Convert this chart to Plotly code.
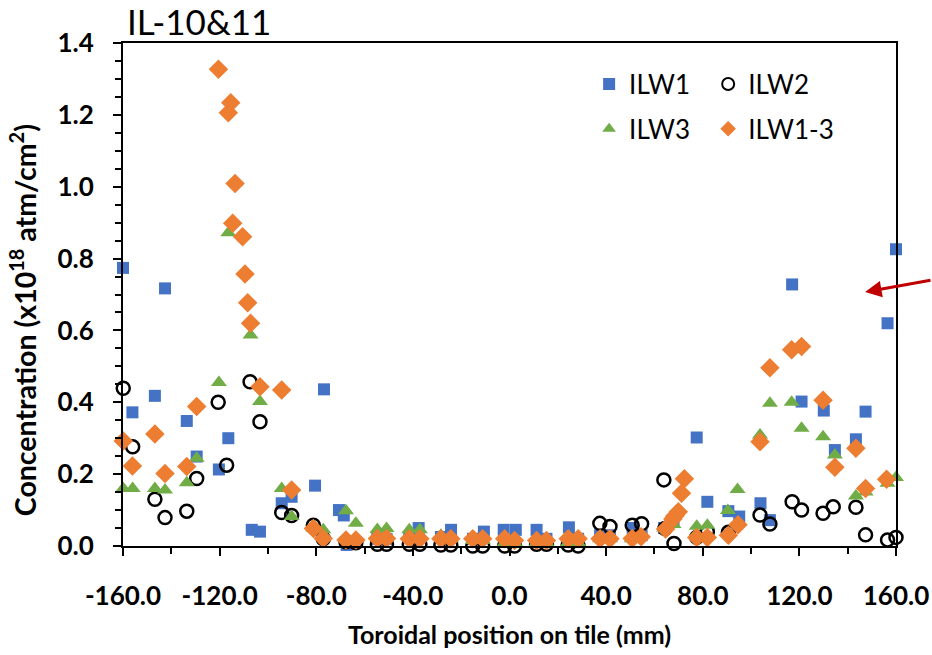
import plotly.graph_objects as go

# ILW1 (blue squares)
ilw1_x = [-160.0, -156.1, -146.8, -142.6, -133.6, -129.5, -120.3, -116.4, -106.7, -103.3,
          -94.3, -90.2, -80.5, -76.8, -70.6, -68.6, -67.4, -54.7, -50.9, -41.5,
          -37.6, -28.4, -24.2, -15.1, -10.6, -2.4, 2.6, 11.2, 15.3, 24.6,
          28.4, 37.5, 41.6, 51.0, 54.7, 64.0, 67.9, 77.5, 81.9, 90.6,
          95.1, 103.9, 107.8, 117.0, 120.9, 130.1, 134.7, 143.4, 147.4, 156.5, 160.0]
ilw1_y = [0.774, 0.372, 0.418, 0.717, 0.348, 0.249, 0.213, 0.300, 0.045, 0.040,
          0.119, 0.137, 0.168, 0.436, 0.100, 0.085, 0.003, 0.020, 0.020, 0.025,
          0.050, 0.025, 0.045, 0.020, 0.040, 0.045, 0.045, 0.045, 0.020, 0.052,
          0.020, 0.030, 0.030, 0.050, 0.030, 0.050, 0.070, 0.302, 0.123, 0.097,
          0.082, 0.119, 0.072, 0.728, 0.402, 0.377, 0.267, 0.297, 0.374, 0.620, 0.826]

# ILW2 (open black circles)
ilw2_x = [-159.9, -156.0, -146.8, -142.6, -133.6, -129.5, -120.6, -117.1, -107.4, -103.3,
          -94.3, -90.2, -81.2, -77.1, -67.7, -63.6, -54.7, -50.9, -41.5, -37.1,
          -28.4, -24.3, -15.2, -11.1, -2.0, 2.1, 11.2, 15.3, 24.3, 28.4,
          37.4, 41.6, 50.8, 54.7, 63.9, 64.4, 68.1, 77.5, 81.9, 90.6,
          103.7, 107.8, 117.0, 120.9, 129.8, 134.0, 143.4, 147.4, 156.5, 160.0]
ilw2_y = [0.439, 0.276, 0.130, 0.079, 0.097, 0.188, 0.400, 0.225, 0.457, 0.346,
          0.093, 0.085, 0.058, 0.020, 0.012, 0.009, 0.005, 0.005, 0.005, 0.005,
          0.003, 0.003, 0.000, 0.000, 0.000, 0.000, 0.005, 0.005, 0.003, 0.000,
          0.063, 0.054, 0.058, 0.062, 0.184, 0.049, 0.007, 0.024, 0.040, 0.038,
          0.086, 0.061, 0.123, 0.100, 0.091, 0.109, 0.108, 0.031, 0.017, 0.024]

# ILW3 (green triangles)
ilw3_x = [-159.9, -156.0, -146.8, -142.6, -133.6, -129.5, -120.3, -116.4, -107.2, -103.3,
          -94.3, -90.2, -81.2, -77.1, -67.7, -63.6, -54.7, -50.9, -41.5, -37.1,
          -28.4, -24.3, -15.2, -11.1, -2.0, 2.1, 11.2, 15.3, 24.3, 28.4,
          37.5, 41.6, 50.6, 54.7, 64.0, 67.9, 77.5, 81.9, 90.4, 94.4,
          103.7, 107.8, 116.8, 120.9, 129.8, 134.7, 143.4, 147.4, 156.5, 160.0]
ilw3_y = [0.160, 0.160, 0.160, 0.156, 0.176, 0.244, 0.455, 0.872, 0.587, 0.402,
          0.160, 0.082, 0.050, 0.045, 0.098, 0.063, 0.046, 0.049, 0.045, 0.045,
          0.030, 0.020, 0.015, 0.015, 0.010, 0.010, 0.010, 0.010, 0.010, 0.010,
          0.020, 0.020, 0.020, 0.030, 0.050, 0.060, 0.055, 0.058, 0.099, 0.157,
          0.309, 0.397, 0.400, 0.328, 0.304, 0.253, 0.139, 0.150, 0.175, 0.191]

# ILW1-3 (orange diamonds)
ilw13_x = [-159.9, -156.1, -146.8, -142.6, -133.6, -129.5, -120.5, -116.4, -115.4, -114.6,
           -113.6, -110.5, -109.5, -108.4, -107.2, -103.3, -94.3, -90.2, -81.2, -77.1,
           -67.7, -63.6, -54.7, -50.9, -41.5, -37.1, -28.4, -24.3, -15.2, -11.1,
           -2.0, 2.1, 11.2, 15.3, 24.3, 28.4, 37.5, 41.6, 50.8, 54.5,
           64.6, 67.6, 68.5, 69.9, 71.2, 72.4, 77.5, 81.9, 90.6, 94.6,
           103.7, 107.8, 116.8, 120.9, 129.8, 134.7, 143.4, 147.4, 156.1]
ilw13_y = [0.292, 0.223, 0.312, 0.202, 0.221, 0.388, 1.327, 1.206, 1.234, 0.898,
           1.009, 0.861, 0.757, 0.677, 0.620, 0.443, 0.434, 0.156, 0.049, 0.021,
           0.017, 0.017, 0.021, 0.021, 0.020, 0.020, 0.020, 0.020, 0.020, 0.020,
           0.020, 0.015, 0.015, 0.015, 0.020, 0.020, 0.020, 0.020, 0.021, 0.026,
           0.047, 0.075, 0.084, 0.095, 0.147, 0.187, 0.024, 0.024, 0.030, 0.059,
           0.290, 0.496, 0.546, 0.555, 0.406, 0.219, 0.272, 0.160, 0.186]

# Axis tick positions and their labels
x_tick_vals = [-160, -120, -80, -40, 0, 40, 80, 120, 160]
x_tick_text = ["-160.0", "-120.0", "-80.0", "-40.0", "0.0", "40.0", "80.0", "120.0", "160.0"]
y_tick_vals = [0.0, 0.2, 0.4, 0.6, 0.8, 1.0, 1.2, 1.4]
y_tick_text = ["0.0", "0.2", "0.4", "0.6", "0.8", "1.0", "1.2", "1.4"]

BLUE = "#4472C4"
ORANGE = "#ED7D31"
GREEN = "#70AD47"
FONT = "Lato"

fig = go.Figure()

fig.add_trace(go.Scatter(
    x=ilw1_x, y=ilw1_y, mode="markers", name="ILW1",
    marker=dict(symbol="square", size=12, color=BLUE),
    legend="legend", legendgroup="a", cliponaxis=False))
fig.add_trace(go.Scatter(
    x=ilw2_x, y=ilw2_y, mode="markers", name="ILW2",
    marker=dict(symbol="circle-open", size=13, color="black", line=dict(width=2.5, color="black")),
    legend="legend2", legendgroup="b", cliponaxis=False))
fig.add_trace(go.Scatter(
    x=ilw3_x, y=ilw3_y, mode="markers", name="ILW3",
    marker=dict(symbol="triangle-up", size=14, color=GREEN),
    legend="legend", legendgroup="c", cliponaxis=False))
fig.add_trace(go.Scatter(
    x=ilw13_x, y=ilw13_y, mode="markers", name="ILW1-3",
    marker=dict(symbol="diamond", size=15, color=ORANGE),
    legend="legend2", legendgroup="d", cliponaxis=False))

axis_common = dict(
    showline=True, linecolor="black", linewidth=2, mirror=True,
    showgrid=False, zeroline=False,
    ticks="outside", ticklen=8, tickwidth=2, tickcolor="black",
    tickfont=dict(family=FONT, size=26, color="black", weight="bold"),
    tickmode="array",
)

fig.update_xaxes(
    range=[-160, 160], tickvals=x_tick_vals, ticktext=x_tick_text,
    minor=dict(ticks="outside", ticklen=6, tickwidth=2, tickcolor="black",
               tickmode="linear", tick0=-160, dtick=20),
    ticklabelstandoff=18,
    title=dict(text="Toroidal position on tile (mm)", standoff=16,
               font=dict(family=FONT, size=25, color="black", weight="bold")),
    **axis_common)
fig.update_yaxes(
    range=[0, 1.4], tickvals=y_tick_vals, ticktext=y_tick_text,
    minor=dict(ticks="outside", ticklen=6, tickwidth=2, tickcolor="black",
               tickmode="linear", tick0=0, dtick=0.05),
    ticklabelstandoff=14,
    **axis_common)

legend_common = dict(
    font=dict(family=FONT, size=26, color="black"),
    bgcolor="rgba(0,0,0,0)", borderwidth=0,
    tracegroupgap=8, itemsizing="constant",
    xanchor="left", yanchor="top", yref="paper", xref="paper",
)

fig.update_layout(
    width=932, height=655,
    margin=dict(l=123, r=36, t=43, b=109, autoexpand=False),
    paper_bgcolor="white", plot_bgcolor="white",
    font=dict(family=FONT, color="black"),
    title=dict(text="IL-10&11", x=127 / 932, xanchor="left", xref="container",
               y=1 - 23 / 655, yanchor="middle", yref="container",
               font=dict(family=FONT, size=35, color="black")),
    legend=dict(x=0.603, y=0.965, **legend_common),
    legend2=dict(x=0.757, y=0.965, **legend_common),
    annotations=[
        # vertical axis title
        dict(text="Concentration (x10<sup>18</sup> atm/cm<sup>2</sup>)",
             x=-0.1294, y=0.449, xref="paper", yref="paper",
             xanchor="center", yanchor="middle", textangle=-90, showarrow=False,
             font=dict(family=FONT, size=28.5, color="black", weight="bold")),
        # red pointer arrow
        dict(x=0.96, y=0.505, xref="paper", yref="paper",
             ax=72, ay=-12, axref="pixel", ayref="pixel",
             showarrow=True, arrowhead=2, arrowsize=1.1, arrowwidth=3,
             arrowcolor="#C00000", text=""),
    ],
)

fig.write_html("out.html")
